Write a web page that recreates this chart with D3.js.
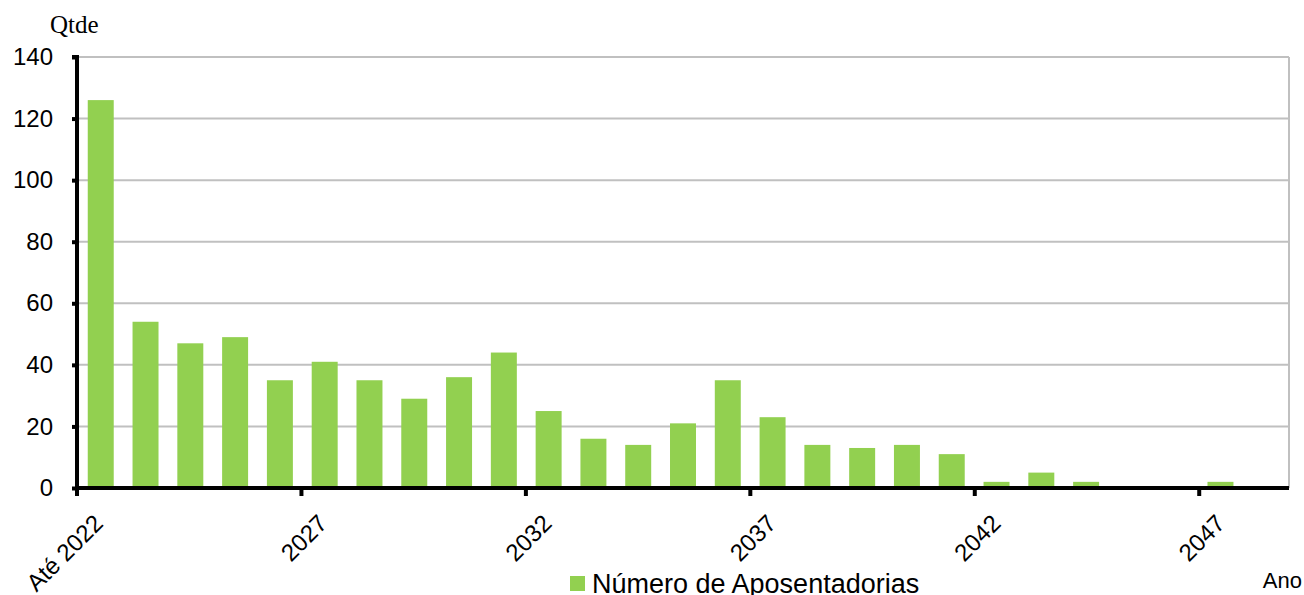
<!DOCTYPE html>
<html><head><meta charset="utf-8">
<script src="https://cdn.jsdelivr.net/npm/d3@7"></script>
<style>body{margin:0;background:#fff}svg{display:block}</style>
</head><body>
<svg id="c" width="1304" height="595"></svg>
<script>
const categories = ["Até 2022","2023","2024","2025","2026","2027","2028","2029","2030","2031","2032","2033","2034","2035","2036","2037","2038","2039","2040","2041","2042","2043","2044","2045","2046","2047","2048"];
const values = [126,54,47,49,35,41,35,29,36,44,25,16,14,21,35,23,14,13,14,11,2,5,2,0,0,2,0];
const labeledCategories = ["Até 2022","2027","2032","2037","2042","2047"];
const yTicks = [0,20,40,60,80,100,120,140];
const seriesName = "Número de Aposentadorias";

const FONT = "Liberation Sans, Arial, sans-serif";
const svg = d3.select("#c");
const L = 77, R = 1289, T = 57, B = 488;
const x = d3.scaleBand().domain(categories).range([L, R]).paddingInner(0.42).paddingOuter(0.24);
const xs = d3.scaleBand().domain(categories).range([L, R]);
const y = d3.scaleLinear().domain([0,140]).range([B, T]);

// gridlines
svg.append("g").selectAll("line").data(yTicks.filter(d=>d>0)).join("line")
  .attr("x1", L).attr("x2", R).attr("y1", d=>y(d)).attr("y2", d=>y(d))
  .attr("stroke", "#c0c0c0").attr("stroke-width", 2);
svg.append("line").attr("x1", R).attr("x2", R).attr("y1", T).attr("y2", B)
  .attr("stroke", "#c0c0c0").attr("stroke-width", 2);

// bars
svg.append("g").selectAll("rect").data(values).join("rect")
  .attr("x", (d,i)=>x(categories[i])).attr("width", x.bandwidth())
  .attr("y", d=>y(d)).attr("height", d=>B - y(d))
  .attr("fill", "#92d050");

// y axis
const yAxis = d3.axisLeft(y).tickValues(yTicks).tickSize(5).tickPadding(19).tickFormat(d3.format("d"));
const gy = svg.append("g").attr("transform", `translate(${L},0)`).call(yAxis);
gy.select(".domain").attr("stroke", "#000").attr("stroke-width", 4).attr("d", `M-5,${T}H0V${B}`);
gy.selectAll(".tick line").attr("stroke", "#000").attr("stroke-width", 4);
gy.selectAll(".tick text").attr("font-family", FONT).attr("font-size", 24).attr("fill", "#000");

// x axis
svg.append("line").attr("x1", L-2).attr("x2", R).attr("y1", B).attr("y2", B).attr("stroke", "#000").attr("stroke-width", 4);
const tickIdx = [0,5,10,15,20,25];
svg.append("g").selectAll("line").data(tickIdx).join("line")
  .attr("x1", i=>xs(categories[i])).attr("x2", i=>xs(categories[i]))
  .attr("y1", B).attr("y2", B+8).attr("stroke", "#000").attr("stroke-width", 4);

svg.append("g").selectAll("text").data(labeledCategories).join("text")
  .attr("transform", d=>`translate(${xs(d)+xs.bandwidth()/2-7},${B+25}) rotate(-45)`)
  .attr("text-anchor", "end").attr("dy", "0.7em")
  .attr("font-family", FONT).attr("font-size", 24).attr("fill", "#000")
  .text(d=>d);

// titles
svg.append("text").attr("x", 50).attr("y", 33).attr("font-family", "Liberation Serif, serif").attr("font-size", 25).text("Qtde");
svg.append("text").attr("x", 1302).attr("y", 588).attr("text-anchor", "end").attr("font-family", FONT).attr("font-size", 22).text("Ano");

// legend
svg.append("rect").attr("x", 570).attr("y", 576).attr("width", 15).attr("height", 15).attr("fill", "#92d050");
svg.append("text").attr("x", 592).attr("y", 593).attr("font-family", FONT).attr("font-size", 27).text(seriesName);
</script>
</body></html>
